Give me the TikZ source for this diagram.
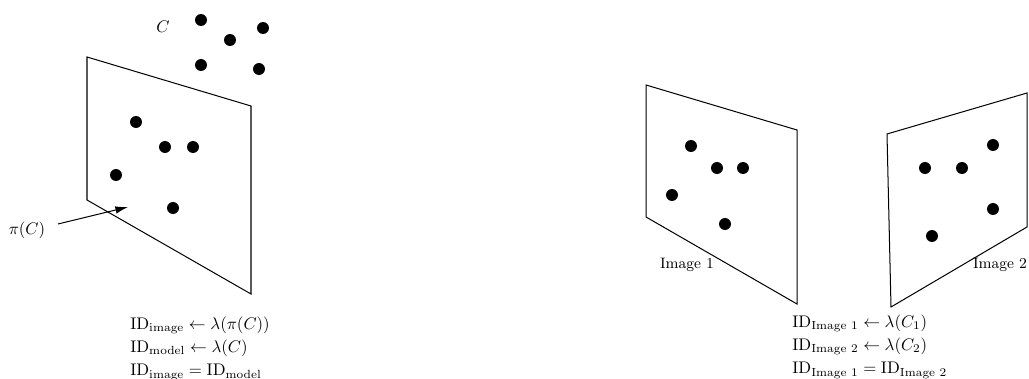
\documentclass[tikz,border=0pt]{standalone}
\usepackage{amsmath}
\usetikzlibrary{arrows.meta}
\begin{document}
\begin{tikzpicture}[x=0.595pt,y=-0.595pt,
  plane/.style={draw=black, line width=0.6pt},
  pt/.style={circle, fill=black, inner sep=0pt, minimum size=7.1pt},
  lbl/.style={inner sep=0pt},
  imlbl/.style={inner sep=0pt, font=\small},
  eqs/.style={align=left, anchor=north west, inner sep=0pt, font=\fontsize{10}{13.7}\selectfont}]
\useasboundingbox (0,0) rectangle (1029,379);
% left plane
\coordinate (p1) at (87,57);
\coordinate (p2) at (251,106);
\coordinate (p3) at (251,294);
\coordinate (p4) at (87,200);
\draw[plane] (p1) -- (p2) -- (p3) -- (p4) -- cycle;
% 3D points C
\node[pt] (c1) at (201,20) {};
\node[pt] (c2) at (263,28) {};
\node[pt] (c3) at (230,40) {};
\node[pt] (c4) at (201,65) {};
\node[pt] (c5) at (259,69) {};
\node[lbl] (C) at (163,27) {$C$};
% projected points
\node[pt] (q1) at (136,122) {};
\node[pt] (q2) at (165,147) {};
\node[pt] (q3) at (193,147) {};
\node[pt] (q4) at (116,175) {};
\node[pt] (q5) at (173,208) {};
\node[lbl] (piC) at (27,230) {$\pi(C)$};
\coordinate (tip) at (128,207);
\coordinate (tail) at (58,224);
\draw[-{Latex[length=7.5pt,width=4.5pt]}, line width=0.6pt] (tail) -- (tip);
\node[eqs] (eqL) at (130,316.5) {$\mathrm{ID}_{\mathrm{image}} \leftarrow \lambda(\pi(C))$\\
$\mathrm{ID}_{\mathrm{model}} \leftarrow \lambda(C)$\\
$\mathrm{ID}_{\mathrm{image}} = \mathrm{ID}_{\mathrm{model}}$};
% right: image 1
\coordinate (a1) at (646,85);
\coordinate (a2) at (797,130);
\coordinate (a3) at (797,304);
\coordinate (a4) at (646,217);
\draw[plane] (a1) -- (a2) -- (a3) -- (a4) -- cycle;
\node[pt] (r1) at (691,146) {};
\node[pt] (r2) at (717,168) {};
\node[pt] (r3) at (743,168) {};
\node[pt] (r4) at (672,195) {};
\node[pt] (r5) at (725,224) {};
\node[imlbl] (im1) at (687,265) {Image 1};
% right: image 2
\coordinate (b1) at (887,134);
\coordinate (b2) at (1027,93);
\coordinate (b3) at (1027,227);
\coordinate (b4) at (891,307);
\draw[plane] (b1) -- (b2) -- (b3) -- (b4) -- cycle;
\node[pt] (s1) at (993,145) {};
\node[pt] (s2) at (925,168) {};
\node[pt] (s3) at (962,168) {};
\node[pt] (s4) at (993,209) {};
\node[pt] (s5) at (932,236) {};
\node[imlbl] (im2) at (1000,265) {Image 2};
\node[eqs] (eqR) at (792,314.5) {$\mathrm{ID}_{\text{Image 1}} \leftarrow \lambda(C_1)$\\
$\mathrm{ID}_{\text{Image 2}} \leftarrow \lambda(C_2)$\\
$\mathrm{ID}_{\text{Image 1}} = \mathrm{ID}_{\text{Image 2}}$};
\end{tikzpicture}
\end{document}
